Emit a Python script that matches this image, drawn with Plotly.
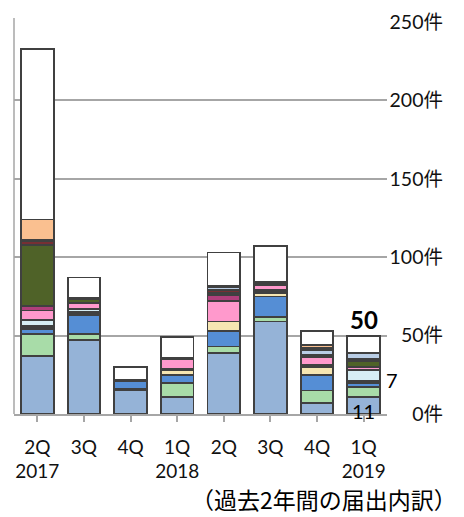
import plotly.graph_objects as go

# Quarterly filing counts, stacked by filing category (bottom to top)
quarters = ["2Q<br>2017", "3Q", "4Q", "1Q<br>2018", "2Q", "3Q", "4Q", "1Q<br>2019"]

cat_a = [37, 47, 15, 11, 39, 59, 7, 11]          # light blue
cat_b = [14, 4, 1, 9, 4, 3, 8, 6]                # light green
cat_c = [3, 12, 5, 5, 10, 13, 10, 3]             # blue
cat_d = [None, None, None, 3, 6, 2, 5, None]     # cream
cat_e = [2, 2, 1, 1, None, 2, 1, 1]              # dark grey
cat_f = [4, 2, None, None, None, None, None, 7]  # pale cyan
cat_g = [6, 4, None, 6, 13, 3, 5, 2]             # pink
cat_h = [3, None, None, None, 4, None, None, None]  # magenta
cat_i = [39, 2, None, None, 1, 1, 1, 4]          # olive
cat_j = [2, None, None, 1, 2, None, 1, 1]        # dark red
cat_k = [None, None, None, None, 2, None, 3, 4]  # pale steel blue
cat_l = [1, 1, None, None, 1, 1, 1, None]        # grey
cat_m = [13, None, None, None, None, None, 2, None]  # peach
cat_n = [109, 13, 8, 13, 21, 23, 9, 11]          # other (white)

series = [
    ("A", cat_a, "#95B3D7"),
    ("B", cat_b, "#A8DCA8"),
    ("C", cat_c, "#558ED5"),
    ("D", cat_d, "#F6E6B2"),
    ("E", cat_e, "#404040"),
    ("F", cat_f, "#D7EEF5"),
    ("G", cat_g, "#FF99CC"),
    ("H", cat_h, "#B03F7B"),
    ("I", cat_i, "#4F6228"),
    ("J", cat_j, "#772F33"),
    ("K", cat_k, "#B9CDE5"),
    ("L", cat_l, "#595959"),
    ("M", cat_m, "#FAC090"),
    ("N", cat_n, "#FFFFFF"),
]

y_ticks = [0, 50, 100, 150, 200, 250]
y_ticktext = [f"{v}件" for v in y_ticks]

LATIN = "Lato, 'Noto Sans CJK JP', sans-serif"
CJK = "'Noto Sans CJK JP', sans-serif"

fig = go.Figure()
x_idx = list(range(len(quarters)))
for name, vals, color in series:
    fig.add_trace(go.Bar(
        x=x_idx, y=vals, name=name,
        marker=dict(color=color, line=dict(color="#404040", width=1.8)),
        hoverinfo="skip",
    ))

totals = [sum(v[i] or 0 for _, v, _ in series) for i in x_idx]
last = x_idx[-1]

# Total above the latest quarter
fig.add_annotation(x=last, y=totals[last], text=f"<b>{totals[last]}</b>",
                   showarrow=False, yanchor="bottom", yshift=0,
                   font=dict(family=LATIN, size=24, color="#000"))
# Bottom segment of the latest quarter
fig.add_annotation(x=last, y=0, text=str(cat_a[last]), showarrow=False,
                   yanchor="middle", yshift=3,
                   font=dict(family=LATIN, size=20, color="#000"))
# Pale cyan segment of the latest quarter
base_f = sum((s[last] or 0) for s in [cat_a, cat_b, cat_c, cat_d, cat_e])
fig.add_annotation(x=last, y=base_f + cat_f[last] / 2, text=str(cat_f[last]),
                   showarrow=False, xshift=28, yshift=-4, yanchor="middle",
                   font=dict(family=LATIN, size=20, color="#000"))

fig.add_annotation(xref="paper", yref="paper", x=(324 - 14) / 440, y=-0.216,
                   xanchor="center", yanchor="middle",
                   text="（過去2年間の届出内訳）", showarrow=False,
                   font=dict(family=CJK, size=23, color="#000"))

# Left frame line of the plotting area
fig.add_shape(type="line", xref="x domain", yref="y domain",
              x0=0, x1=0, y0=0, y1=1.01,
              line=dict(color="#A6A6A6", width=1.5))

fig.update_layout(
    width=464, height=517,
    margin=dict(l=14, r=10, t=22, b=103),
    barmode="stack", bargap=0.3,
    showlegend=False,
    plot_bgcolor="#FFFFFF", paper_bgcolor="#FFFFFF",
    xaxis=dict(
        domain=[0, 373 / 440],
        tickmode="array", tickvals=x_idx, ticktext=quarters,
        range=[-0.5, len(quarters) - 0.5],
        showline=True, linecolor="#A6A6A6", linewidth=1.5,
        ticks="outside", tickson="boundaries", ticklen=6,
        tickcolor="#A6A6A6", tickwidth=1.5,
        ticklabelstandoff=9,
        tickfont=dict(family=LATIN, size=19, color="#111"),
        showgrid=False, zeroline=False,
    ),
    yaxis=dict(
        range=[0, 250], tickvals=y_ticks, ticktext=y_ticktext,
        anchor="free", side="left", position=0.975,
        showgrid=True, gridcolor="#A6A6A6", gridwidth=1.5,
        zeroline=False, showline=False, ticks="",
        tickfont=dict(family=LATIN, size=19.5, color="#111"),
    ),
)

fig.write_html("out.html")
